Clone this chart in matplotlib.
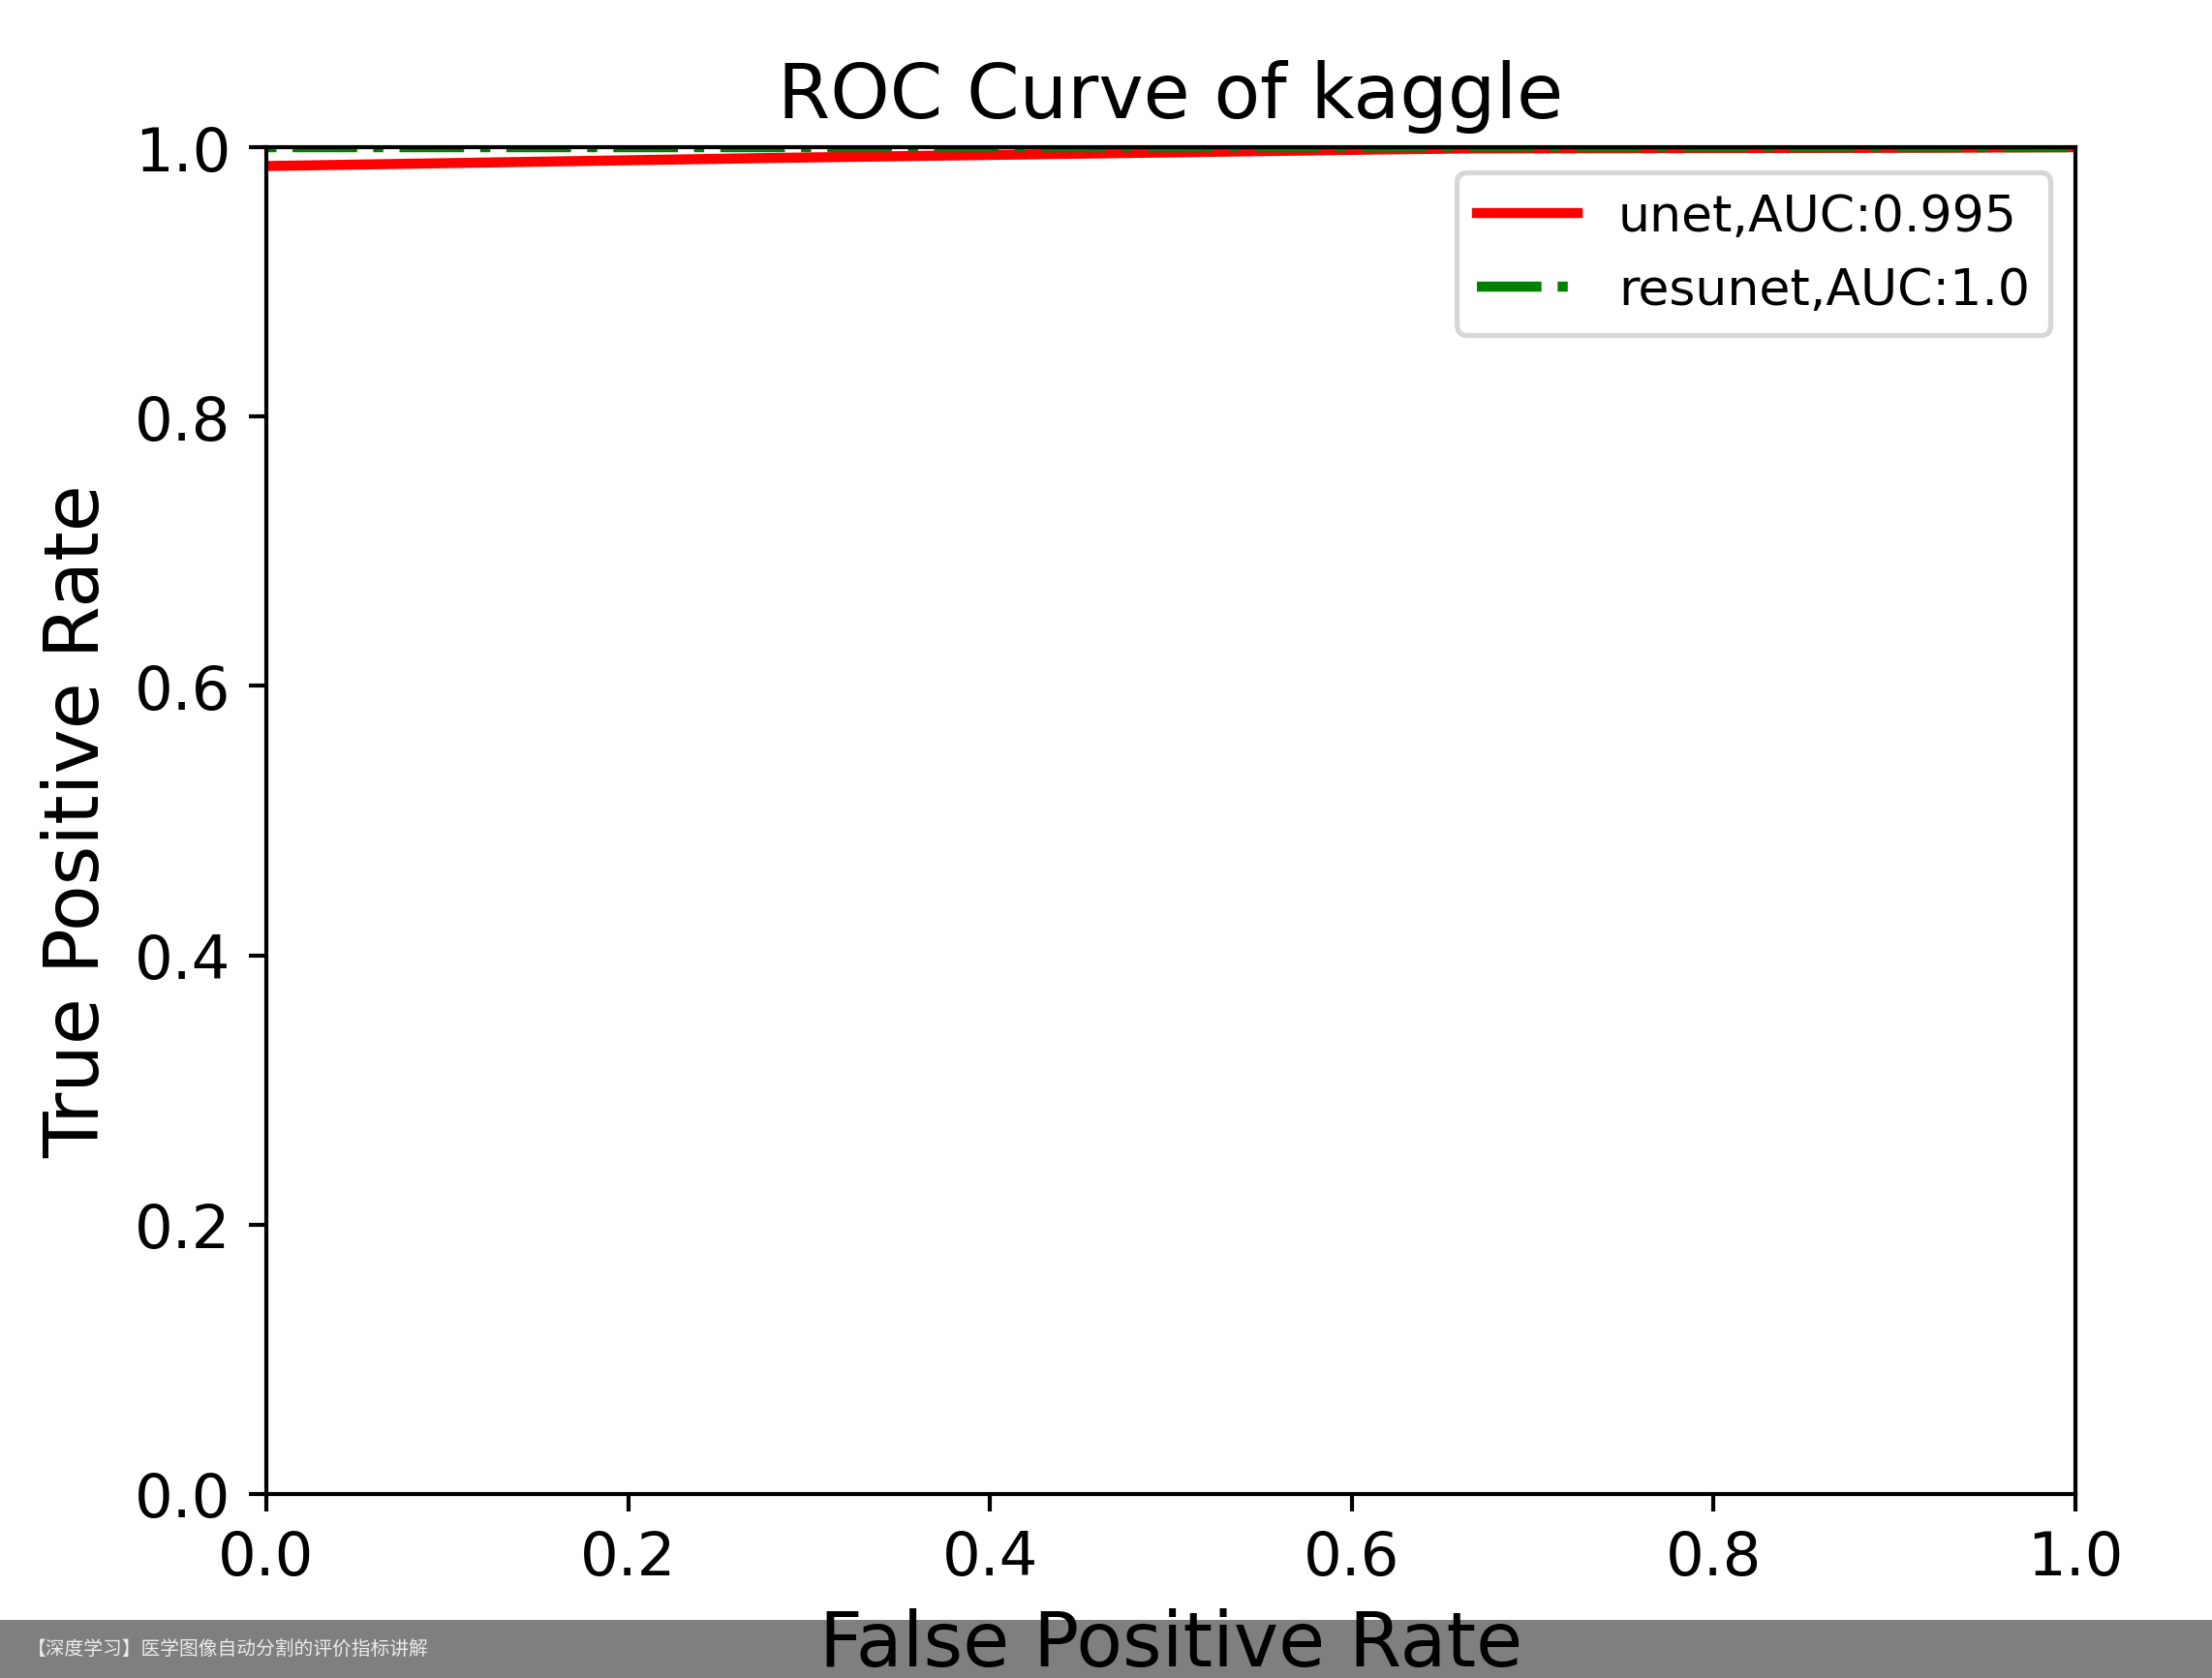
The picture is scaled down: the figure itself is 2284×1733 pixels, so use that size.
import matplotlib
matplotlib.use("Agg")
import matplotlib.pyplot as plt
from matplotlib.patches import Rectangle

# ---- data ----
unet_fpr = [0.0, 0.28, 0.6, 0.66, 0.93, 1.0]
unet_tpr = [0.986, 0.992, 0.998, 0.999, 0.9996, 1.0]
resunet_fpr = [0.0, 1.0]
resunet_tpr = [1.0, 1.0]
series_labels = ["unet,AUC:0.995", "resunet,AUC:1.0"]
title_text = "ROC Curve of kaggle"
xlabel_text = "False Positive Rate"
ylabel_text = "True Positive Rate"
caption_text = "【深度学习】医学图像自动分割的评价指标讲解"

DPI = 375
fig = plt.figure(figsize=(2284 / DPI, 1734 / DPI), dpi=DPI)
ax = fig.add_axes([275 / 2284, 1 - 1544 / 1734, (2143 - 275) / 2284, (1544 - 153) / 1734])

ax.plot(unet_fpr, unet_tpr, color="red", lw=2, linestyle="-", label=series_labels[0])
green_line, = ax.plot(resunet_fpr, resunet_tpr, color="green", lw=2, linestyle="-.",
                      label=series_labels[1])

ax.set_xlim(0.0, 1.0)
ax.set_ylim(0.0, 1.0)
ax.set_title(title_text, fontsize=15)
ax.set_xlabel(xlabel_text, fontsize=15)
ax.set_ylabel(ylabel_text, fontsize=15)
ax.tick_params(labelsize=12)
ax.legend(loc="upper right", fontsize=10)
# shift dash phase of plotted line (legend handle keeps default phase)
green_line.set_linestyle((8.0, (6.4, 1.6, 1.0, 1.6)))

# watermark bar (semi-transparent black overlay) with caption
bar_h = (1734 - 1674) / 1734
fig.add_artist(Rectangle((0, 0), 1, bar_h, transform=fig.transFigure,
                         facecolor="black", edgecolor="none", alpha=0.5, zorder=10))
fig.text(28 / 2284, bar_h / 2, caption_text, fontsize=3.8, color="#ebebeb",
         family=["Noto Sans CJK SC", "DejaVu Sans"], va="center", ha="left", zorder=11)

fig.savefig("out.png", dpi=DPI)
